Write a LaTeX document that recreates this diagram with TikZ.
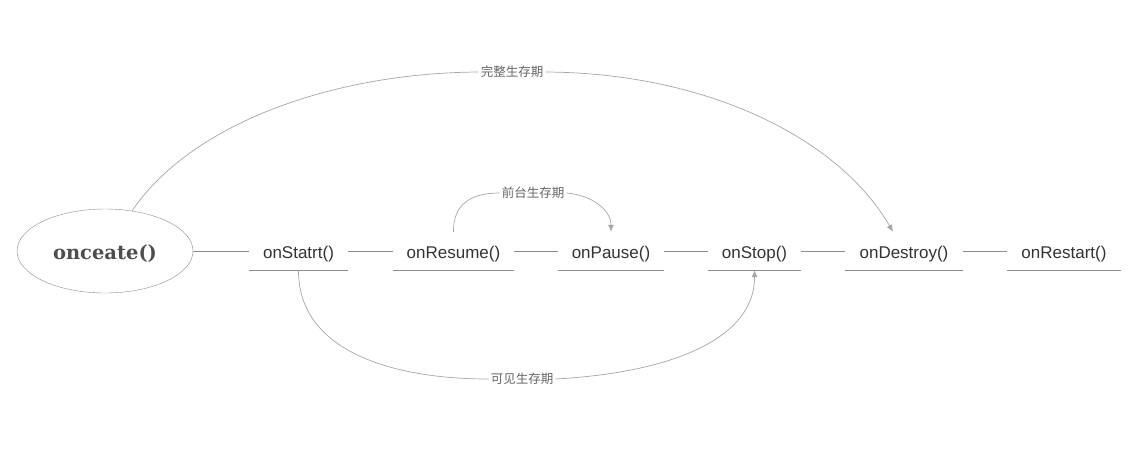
\documentclass[tikz,border=0pt]{standalone}
\usepackage{fontspec}
\setsansfont{Liberation Sans}
\newfontfamily\cjkfont{Noto Sans CJK SC}
\newfontfamily\slabfont{DejaVu Serif}
\usepackage{tikz}
\usetikzlibrary{arrows.meta}
\usetikzlibrary{shapes.geometric}
\definecolor{textgray}{HTML}{333333}
\definecolor{roottext}{HTML}{4D4D4D}
\definecolor{linegray}{HTML}{8C8C8C}
\definecolor{curvegray}{HTML}{A6A6A6}
\definecolor{labelgray}{HTML}{666666}

\begin{document}
\begin{tikzpicture}[
	x=1pt, y=-1pt,
	Root/.style={ellipse,draw=linegray,thin,minimum width=176pt,minimum height=84pt,
		font=\slabfont\bfseries\fontsize{19.5}{23}\selectfont,text=roottext,
		text height=20pt,text depth=4pt},
	Stage/.style={font=\sffamily\fontsize{17}{20}\selectfont,text=textgray,
		text height=17pt,text depth=3pt,inner xsep=14pt,inner ysep=9pt},
	Links/.style={draw=linegray,line width=0.8pt},
	Spans/.style={draw=curvegray,line width=0.7pt},
	SpanLabel/.style={font=\cjkfont\fontsize{12.5}{15}\selectfont,text=labelgray,
		fill=white,inner xsep=2pt,inner ysep=1pt},
	every node/.style={scale=1}
	]
	\useasboundingbox (0,0) rectangle (1138,456);
	
	% the lifecycle methods
	\node[Root] (create) at (105,251) {onceate()};
	\node[Stage] (start) at (298.5,251) {onStatrt()};
	\node[Stage] (resume) at (453.5,251) {onResume()};
	\node[Stage] (pause) at (611,251) {onPause()};
	\node[Stage] (stop) at (754.5,251) {onStop()};
	\node[Stage] (destroy) at (904,251) {onDestroy()};
	\node[Stage] (restart) at (1064,251) {onRestart()};
	
	\foreach \a/\b in {create/start,start/resume,resume/pause,pause/stop,stop/destroy,destroy/restart}
	{ \draw[Links] (\a) -- (\b);
	}
	\foreach \n in {start,resume,pause,stop,destroy,restart}
	{ \draw[Links] (\n.south west) -- (\n.south east);
	}
	
	% lifetimes
	\node[SpanLabel] (whole) at (512,72) {完整生存期};
	\node[SpanLabel] (front) at (533,193) {前台生存期};
	\node[SpanLabel] (visible) at (522,379) {可见生存期};
	
	\draw[Spans] (create.56) .. controls (190,125) and (330,73) .. (whole.west);
	\draw[Spans, -{Latex[length=7pt, width=6pt]}] (whole.east) .. controls (710,73) and (840,140) .. ([xshift=-11pt]destroy.north);
	
	\draw[Spans] (resume.north) .. controls (453,205) and (470,193) .. (front.west);
	\draw[Spans, -{Latex[length=7pt, width=6pt]}] (front.east) .. controls (592,195) and (611,210) .. (pause.north);
	
	\draw[Spans] (start.south) .. controls (298,350) and (390,379) .. (visible.west);
	\draw[Spans, -{Latex[length=7pt, width=6pt]}] (visible.east) .. controls (680,372) and (755,335) .. (stop.south);
	
\end{tikzpicture}
\end{document}
